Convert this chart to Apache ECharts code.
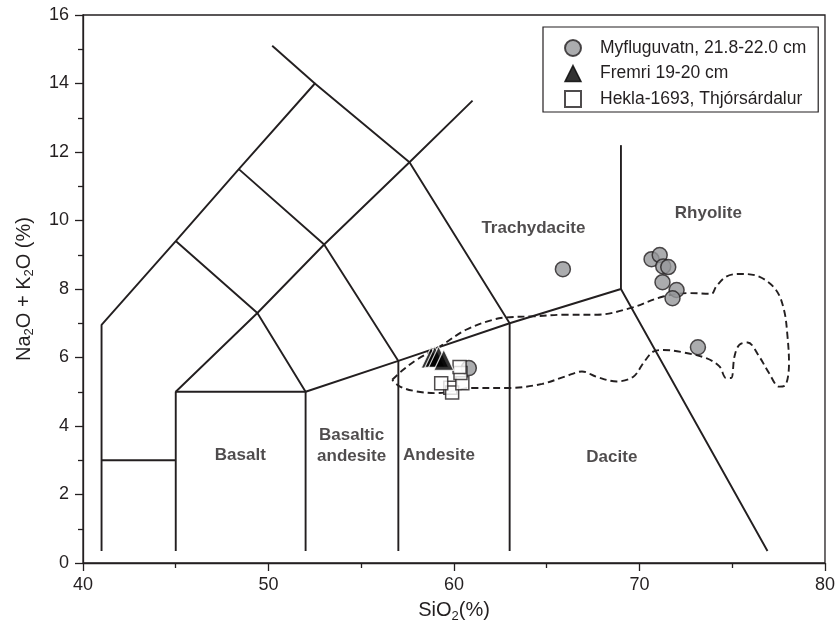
<!DOCTYPE html>
<html><head><meta charset="utf-8">
<script src="https://cdn.jsdelivr.net/npm/echarts@6/dist/echarts.min.js"></script>
<style>html,body{margin:0;padding:0;background:#fff}#c{width:838px;height:630px}</style>
</head><body><div id="c"></div>
<script>
// ---- data ----
const xTickLabels = ['40','50','60','70','80'];
const yTickLabels = ['0','2','4','6','8','10','12','14','16'];
const seriesNames = ['Myfluguvatn, 21.8-22.0 cm','Fremri 19-20 cm','Hekla-1693, Thjórsárdalur'];
const myfluguvatn = [[60.8,5.69],[65.87,8.58],[70.65,8.87],[71.09,8.99],[71.28,8.66],[71.55,8.64],[71.24,8.2],[72.0,7.97],[71.78,7.73],[73.15,6.30]];
const hekla = [[59.8,5.12],[59.9,4.98],[59.31,5.25],[60.45,5.25],[60.35,5.55],[60.3,5.72]];
const fremri = [[58.77,6.0],[58.97,6.02],[59.17,6.02],[59.45,5.93]];
const tasLines = [
  [[41,0.35],[41,6.95],[45,9.4],[48.4,11.5],[52.5,14],[57.6,11.7],[63,7],[63,0.35]],
  [[41,3],[45,3]],
  [[45,0.35],[45,5],[52,5],[57,5.9],[63,7],[69,8],[76.9,0.35]],
  [[52,0.35],[52,5]],
  [[57,0.35],[57,5.9]],
  [[45,5],[49.4,7.3],[52,5]],
  [[45,9.4],[49.4,7.3],[53,9.3],[57,5.9]],
  [[48.4,11.5],[53,9.3],[57.6,11.7],[61,13.5]],
  [[50.2,15.1],[52.5,14]],
  [[69,8],[69,12.2]]
];
const fieldOutline = [[56.67,5.35],[57.26,5.64],[57.98,5.93],[59.23,6.32],[60.65,6.81],[62.08,7.10],[62.8,7.17],[64.23,7.2],[66.01,7.25],[67.71,7.25],[69.49,7.44],[71.28,7.78],[72.71,7.88],[73.87,7.86],[74.13,8.07],[74.67,8.36],[75.38,8.44],[76.45,8.36],[77.35,7.98],[77.79,7.39],[77.98,6.61],[78.06,5.84],[77.88,5.2],[77.53,5.15],[76.99,5.54],[76.45,6.03],[75.83,6.44],[75.38,6.37],[75.12,6.03],[74.94,5.4],[74.67,5.4],[74.31,5.74],[73.6,5.98],[72.35,6.15],[71.28,6.22],[70.74,6.17],[70.21,5.84],[69.67,5.44],[68.78,5.3],[67.71,5.43],[66.9,5.59],[66.01,5.45],[64.76,5.23],[62.98,5.11],[61.01,5.11],[59.05,4.96],[57.98,5.01],[57.09,5.15],[56.67,5.35]];
const fieldNames = ['Basalt','Basaltic\nandesite','Andesite','Dacite','Trachydacite','Rhyolite'];
const fieldPos = [[48.48,3.13],[54.48,3.42],[59.19,3.13],[68.51,3.1],[64.28,9.76],[73.71,10.22]];

// ---- chart ----
const ink = '#231f20';
const font = "'Liberation Sans', Arial, Helvetica, sans-serif";
const chart = echarts.init(document.getElementById('c'), null, {renderer:'canvas'});
const series = [];
tasLines.forEach(l => series.push({type:'line', data:l, symbol:'none', silent:true, z:1,
  lineStyle:{color:ink, width:1.9}, animation:false}));
series.push({type:'line', data:fieldOutline, symbol:'none', silent:true, smooth:0.35, z:1,
  lineStyle:{color:ink, width:1.9, type:[7,4]}, animation:false});
series.push({type:'scatter', data:fieldNames.map((n,i)=>({name:n, value:fieldPos[i]})), symbolSize:1,
  itemStyle:{color:'rgba(0,0,0,0)'}, silent:true, z:2,
  label:{show:true, position:'inside', formatter:p=>p.name, fontFamily:font, fontWeight:'bold', fontSize:17, lineHeight:21, color:ink}});
series.push({type:'scatter', name:seriesNames[0], data:myfluguvatn, symbol:'circle', symbolSize:15, z:3,
  symbolKeepAspect:true, itemStyle:{color:'#96979a', borderColor:ink, borderWidth:1.5}});
series.push({type:'scatter', name:seriesNames[2], data:hekla, symbol:'rect', symbolSize:13, z:4,
  symbolKeepAspect:true, itemStyle:{color:'#fff', borderColor:ink, borderWidth:1.5}});
series.push({type:'scatter', name:seriesNames[1], data:fremri, symbol:'triangle', symbolSize:[20,21], z:5,
  symbolKeepAspect:true, itemStyle:{color:'#000', borderColor:'#fff', borderWidth:1.2}});

const axisCommon = {
  type:'value',
  axisLine:{show:true, onZero:false, lineStyle:{color:ink, width:1.3}},
  axisTick:{show:true, inside:false, length:8, lineStyle:{color:ink, width:1.3}},
  minorTick:{show:true, splitNumber:2, length:5, lineStyle:{color:ink, width:1.3}},
  splitLine:{show:false},
  nameLocation:'middle',
};
const nameStyle = {fontSize:20, color:ink, fontFamily:font, lineHeight:24,
  rich:{sub:{fontSize:13, lineHeight:13, verticalAlign:'bottom', color:ink, fontFamily:font}}};
chart.setOption({
  animation:false,
  backgroundColor:'#fff',
  grid:{left:83, top:15, right:9, bottom:67, show:true, borderColor:ink, borderWidth:1.3},
  xAxis:Object.assign({}, axisCommon, {min:40, max:80, interval:10,
    axisLabel:{fontSize:18, color:ink, fontFamily:font, margin:13,
      formatter:v=>xTickLabels[Math.round((v-40)/10)]},
    name:'SiO{sub|2}(%)', nameGap:30, nameTextStyle:nameStyle}),
  yAxis:Object.assign({}, axisCommon, {min:0, max:16, interval:2,
    axisLabel:{fontSize:18, color:ink, fontFamily:font, margin:14,
      formatter:v=>yTickLabels[Math.round(v/2)]},
    name:'Na{sub|2}O + K{sub|2}O (%)', nameGap:47, nameTextStyle:nameStyle}),
  legend:{data:[seriesNames[0], {name:seriesNames[1], itemStyle:{borderColor:'#000', borderWidth:1.5}}, seriesNames[2]],
    orient:'vertical', left:543, top:27, itemWidth:16, itemHeight:16, itemGap:7.5,
    padding:[12,12,4,21], borderColor:ink, borderWidth:1.2, backgroundColor:'#fff', selectedMode:false,
    textStyle:{fontSize:17.5, color:ink, fontFamily:font, padding:[0,0,0,14]}},
  series:series
});
</script></body></html>
